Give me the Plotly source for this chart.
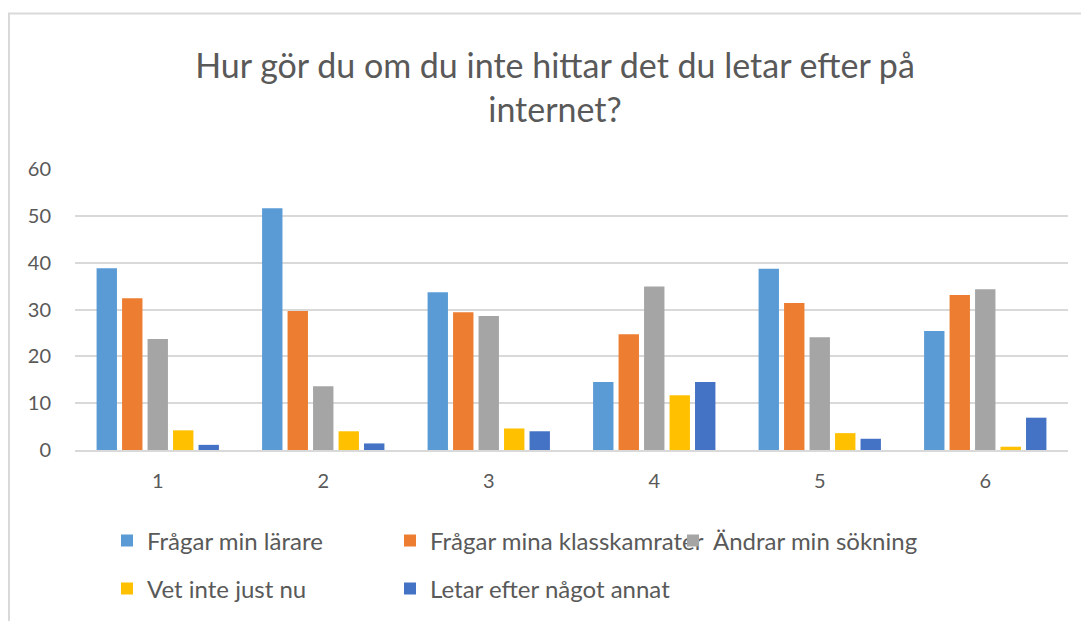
import plotly.graph_objects as go

categories = ["1", "2", "3", "4", "5", "6"]
series_names = ["Frågar min lärare", "Frågar mina klasskamrater", "Ändrar min sökning",
                "Vet inte just nu", "Letar efter något annat"]
fragar_larare = [38.8, 51.6, 33.7, 14.5, 38.7, 25.4]
fragar_klass = [32.4, 29.7, 29.4, 24.7, 31.4, 33.1]
andrar_sokning = [23.7, 13.6, 28.6, 34.9, 24.1, 34.3]
vet_inte = [4.2, 4.0, 4.6, 11.7, 3.6, 0.7]
letar_annat = [1.1, 1.4, 4.0, 14.5, 2.4, 6.9]
colors = ["#5B9BD5", "#ED7D31", "#A5A5A5", "#FFC000", "#4472C4"]
title_text = "Hur gör du om du inte hittar det du letar efter på<br>internet?"

values = [fragar_larare, fragar_klass, andrar_sokning, vet_inte, letar_annat]
legend_ids = ["legend", "legend", "legend", "legend2", "legend2"]

FONT = "Lato, 'Open Sans', sans-serif"
TXT = "#595959"

fig = go.Figure()
for name, vals, col, lg in zip(series_names, values, colors, legend_ids):
    fig.add_trace(go.Bar(
        x=categories, y=vals, name=name, marker_color=col,
        marker_line_width=0, legend=lg,
        hoverinfo="x+y+name",
    ))

# page body has an 8px margin; coordinates below are figure coordinates
W, H = 1089, 621
L, R, T, B = 67, 29, 161, 179
pw = W - L - R
ph = H - T - B


def px_x(px):
    return (px - L) / pw


def px_y(py):
    return (H - B - py) / ph


legend_common = dict(
    orientation="h", font=dict(family=FONT, size=24, color=TXT),
    bgcolor="rgba(0,0,0,0)", itemwidth=30, entrywidth=238, entrywidthmode="pixels",
    yanchor="middle", xanchor="left", traceorder="normal",
)

fig.update_layout(
    width=W, height=H,
    margin=dict(l=L, r=R, t=T, b=B),
    paper_bgcolor="white", plot_bgcolor="white",
    barmode="group", bargap=0.23, bargroupgap=0.2,
    title=dict(text=title_text, x=px_x(547), xanchor="center", xref="paper",
               y=1 - 69.5 / H, yanchor="middle",
               font=dict(family=FONT, size=34, color=TXT)),
    font=dict(family=FONT, size=20, color=TXT),
    xaxis=dict(showgrid=False, showline=True, linecolor="#d9d9d9", linewidth=1.5,
               ticks="", tickfont=dict(family=FONT, size=20, color=TXT),
               ticklabelstandoff=12),
    yaxis=dict(range=[0, 60], dtick=10, showgrid=True, gridcolor="#d9d9d9",
               gridwidth=1.5, zeroline=False, showline=False, ticks="",
               tickfont=dict(family=FONT, size=20, color=TXT),
               ticklabelstandoff=23),
    legend=dict(x=px_x(99), y=px_y(533), **legend_common),
    legend2=dict(x=px_x(99), y=px_y(581), **legend_common),
    shapes=[
        dict(type="line", xref="paper", yref="paper", x0=px_x(0), x1=px_x(W),
             y0=px_y(5.5), y1=px_y(5.5), line=dict(color="#d9d9d9", width=2)),
        dict(type="line", xref="paper", yref="paper", x0=px_x(1), x1=px_x(1),
             y0=px_y(5.5), y1=px_y(H), line=dict(color="#d9d9d9", width=2)),
    ],
)

fig.write_html("out.html")
